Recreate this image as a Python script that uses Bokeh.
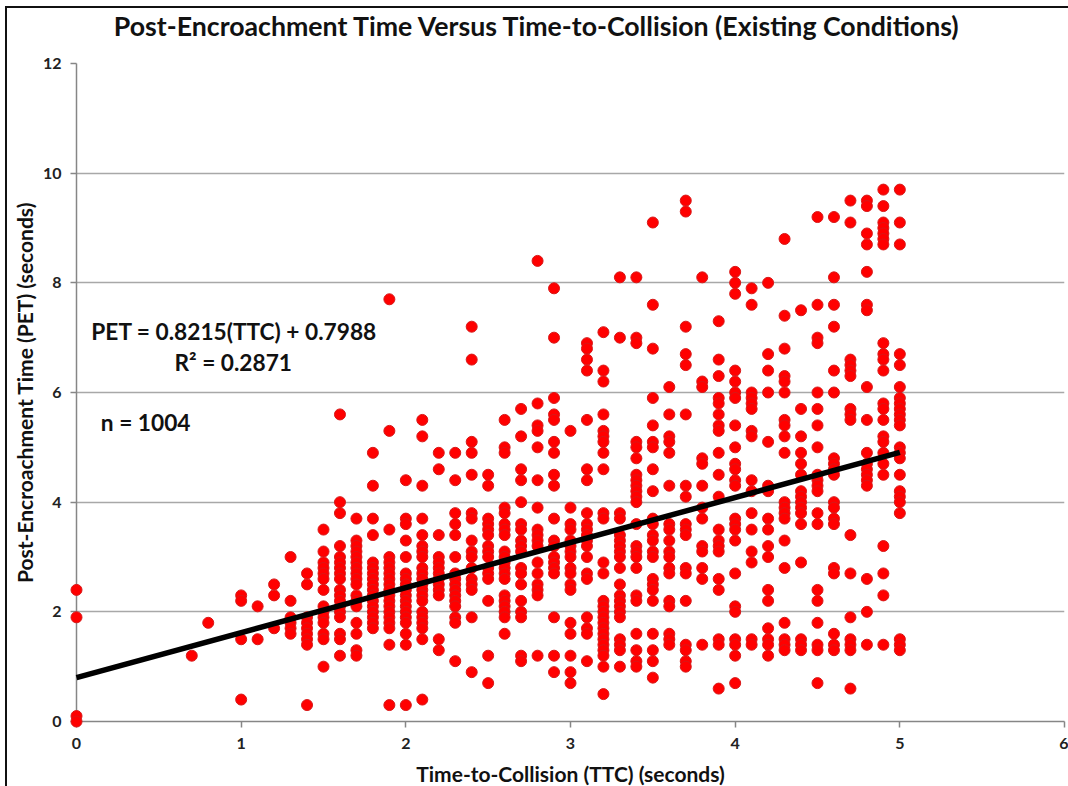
from bokeh.plotting import figure
from bokeh.models import Range1d, FixedTicker
from bokeh.embed import file_html
from bokeh.resources import INLINE
from bokeh.core.properties import value

title_text = "Post-Encroachment Time Versus Time-to-Collision (Existing Conditions)"
x_label = "Time-to-Collision (TTC) (seconds)"
y_label = "Post-Encroachment Time (PET) (seconds)"
eq_text = "PET = 0.8215(TTC) + 0.7988"
r2_text = "R² = 0.2871"
n_text = "n = 1004"
x_ticks = [0, 1, 2, 3, 4, 5, 6]
y_ticks = [0, 2, 4, 6, 8, 10, 12]

trend_x = [0, 5]
trend_y = [0.7988, 4.9063]

pet_by_ttc = {
    0.0: [2.4, 1.9, 0.1, 0.0],
    0.7: [1.2],
    0.8: [1.8],
    1.0: [2.3, 2.2, 1.5, 0.4],
    1.1: [2.1, 1.5],
    1.2: [2.5, 2.3, 1.7],
    1.3: [3.0, 2.2, 1.9, 1.8, 1.7, 1.6],
    1.4: [2.7, 2.5, 1.9, 1.8, 1.7, 1.6, 1.5, 1.4, 0.3],
    1.5: [3.5, 3.1, 2.9, 2.8, 2.7, 2.6, 2.4, 2.1, 2.0, 1.9, 1.8, 1.6, 1.5, 1.0],
    1.6: [5.6, 4.0, 3.8, 3.2, 3.0, 2.9, 2.8, 2.7, 2.6, 2.4, 2.3, 2.2, 2.1, 2.0, 1.9, 1.6, 1.5, 1.2],
    1.7: [3.7, 3.3, 3.2, 3.1, 3.0, 2.9, 2.8, 2.7, 2.6, 2.5, 2.3, 2.2, 2.1, 1.8, 1.6, 1.3, 1.2],
    1.8: [4.9, 4.3, 3.7, 3.4, 2.9, 2.8, 2.7, 2.6, 2.5, 2.4, 2.3, 2.2, 2.1, 2.0, 1.9, 1.8, 1.7],
    1.9: [7.7, 5.3, 3.5, 3.0, 2.9, 2.8, 2.7, 2.6, 2.5, 2.4, 2.3, 2.2, 2.1, 2.0, 1.9, 1.8, 1.7, 1.4, 0.3],
    2.0: [4.4, 3.7, 3.6, 3.3, 3.0, 2.7, 2.6, 2.5, 2.4, 2.3, 2.2, 2.1, 2.0, 1.9, 1.8, 1.6, 1.4, 0.3],
    2.1: [5.5, 5.2, 4.3, 3.7, 3.4, 3.2, 3.1, 3.0, 2.8, 2.7, 2.6, 2.5, 2.4, 2.3, 2.2, 2.0, 1.9, 1.8, 1.7, 1.5, 0.4],
    2.2: [4.9, 4.6, 3.4, 3.0, 2.9, 2.8, 2.7, 2.6, 2.5, 2.4, 2.3, 1.5, 1.3],
    2.3: [4.9, 4.4, 3.8, 3.6, 3.4, 3.0, 2.7, 2.6, 2.5, 2.4, 2.3, 2.2, 2.1, 1.9, 1.8, 1.1],
    2.4: [7.2, 6.6, 5.1, 4.9, 4.5, 3.8, 3.7, 3.3, 3.1, 3.0, 2.8, 2.6, 2.5, 2.4, 1.9, 0.9],
    2.5: [4.5, 4.3, 3.7, 3.6, 3.5, 3.4, 3.2, 3.1, 3.0, 2.8, 2.7, 2.6, 2.2, 1.2, 0.7],
    2.6: [5.5, 5.0, 4.9, 3.9, 3.8, 3.6, 3.5, 3.4, 3.1, 3.0, 2.9, 2.8, 2.7, 2.6, 2.3, 2.2, 2.1, 2.0, 1.9, 1.6],
    2.7: [5.7, 5.2, 4.6, 4.4, 4.0, 3.6, 3.5, 3.3, 3.2, 3.1, 2.8, 2.7, 2.5, 2.2, 2.0, 1.9, 1.2, 1.1],
    2.8: [8.4, 5.8, 5.4, 5.3, 5.0, 4.4, 3.9, 3.5, 3.4, 3.3, 3.2, 2.9, 2.7, 2.5, 2.4, 2.3, 1.2],
    2.9: [7.9, 7.0, 5.9, 5.6, 5.5, 5.1, 4.9, 4.5, 4.3, 3.7, 3.3, 3.2, 3.0, 2.9, 2.8, 2.7, 1.9, 1.2, 0.9],
    3.0: [5.3, 3.9, 3.6, 3.5, 3.3, 3.2, 3.1, 3.0, 2.8, 2.7, 2.5, 2.4, 1.8, 1.6, 1.2, 0.9, 0.7],
    3.1: [6.9, 6.8, 6.6, 6.4, 5.5, 4.6, 4.4, 3.8, 3.6, 3.5, 3.4, 3.3, 3.2, 3.0, 2.7, 2.6, 1.9, 1.7, 1.6, 1.1],
    3.2: [7.1, 6.4, 6.2, 5.6, 5.3, 5.2, 5.1, 4.9, 4.6, 3.8, 3.7, 2.9, 2.7, 2.2, 2.1, 2.0, 1.9, 1.8, 1.7, 1.6, 1.5, 1.4, 1.3, 1.2, 1.0, 0.5],
    3.3: [8.1, 7.0, 3.8, 3.7, 3.4, 3.3, 3.2, 3.1, 3.0, 2.8, 2.5, 2.3, 2.2, 2.1, 2.0, 1.9, 1.5, 1.4, 1.3, 1.0],
    3.4: [8.1, 7.0, 6.9, 5.1, 5.0, 4.8, 4.5, 4.4, 4.3, 4.2, 4.1, 4.0, 3.6, 3.2, 3.1, 3.0, 2.8, 2.3, 2.2, 1.6, 1.3, 1.1, 1.0],
    3.5: [9.1, 7.6, 6.8, 5.9, 5.4, 5.1, 5.0, 4.6, 4.2, 3.7, 3.6, 3.4, 3.3, 3.1, 3.0, 2.6, 2.5, 2.4, 2.2, 1.6, 1.3, 1.1, 0.8],
    3.6: [6.1, 5.6, 5.2, 5.1, 4.9, 4.3, 3.6, 3.5, 3.3, 3.1, 3.0, 2.8, 2.7, 2.2, 2.1, 1.6, 1.5, 1.4],
    3.7: [9.5, 9.3, 7.2, 6.7, 6.5, 5.6, 4.3, 4.1, 3.6, 3.5, 3.4, 2.8, 2.7, 2.2, 1.4, 1.3, 1.1, 1.0],
    3.8: [8.1, 6.2, 6.1, 4.8, 4.7, 4.3, 3.9, 3.7, 3.2, 3.1, 2.8, 2.6, 1.4],
    3.9: [7.3, 6.6, 6.3, 5.9, 5.8, 5.6, 5.4, 5.3, 4.9, 4.5, 4.1, 3.5, 3.3, 3.2, 3.1, 2.6, 2.4, 1.5, 1.4, 0.6],
    4.0: [8.2, 8.0, 7.8, 6.4, 6.2, 6.0, 5.9, 5.4, 5.0, 4.7, 4.6, 4.4, 4.3, 3.7, 3.6, 3.5, 3.3, 2.7, 2.1, 2.0, 1.5, 1.4, 1.2, 0.7],
    4.1: [7.9, 7.6, 6.0, 5.9, 5.8, 5.7, 5.3, 5.2, 4.4, 4.2, 3.8, 3.5, 3.1, 2.9, 1.5, 1.4],
    4.2: [8.0, 6.7, 6.4, 6.0, 5.1, 4.3, 4.2, 3.7, 3.5, 3.2, 3.0, 2.4, 2.2, 1.7, 1.5, 1.4, 1.2],
    4.3: [8.8, 7.4, 6.8, 6.3, 6.2, 6.0, 5.5, 5.4, 5.2, 4.9, 4.0, 3.9, 3.8, 3.7, 3.3, 2.8, 1.8, 1.5, 1.4, 1.3],
    4.4: [7.5, 5.7, 5.2, 4.9, 4.7, 4.5, 4.2, 4.1, 4.0, 3.9, 3.8, 3.6, 2.9, 1.5, 1.4, 1.3],
    4.5: [9.2, 7.6, 7.0, 6.9, 6.0, 5.7, 5.4, 5.0, 4.5, 4.4, 4.3, 4.2, 3.8, 3.6, 2.4, 2.2, 1.8, 1.4, 1.3, 0.7],
    4.6: [9.2, 8.1, 7.6, 7.2, 6.4, 6.0, 4.8, 4.7, 4.6, 4.5, 4.0, 3.9, 3.7, 3.6, 2.8, 2.7, 1.6, 1.4, 1.3],
    4.7: [9.5, 9.1, 6.6, 6.5, 6.4, 6.3, 5.7, 5.6, 5.5, 3.4, 2.7, 1.9, 1.5, 1.4, 1.3, 0.6],
    4.8: [9.5, 9.4, 8.9, 8.7, 8.2, 7.6, 7.5, 6.1, 5.5, 4.9, 4.7, 4.6, 4.5, 4.4, 4.3, 2.6, 2.0, 1.4],
    4.9: [9.7, 9.4, 9.1, 9.0, 8.9, 8.8, 8.7, 6.9, 6.7, 6.6, 6.4, 5.8, 5.7, 5.5, 5.2, 5.1, 4.9, 4.7, 4.5, 3.2, 2.7, 2.3, 1.4],
    5.0: [9.7, 9.1, 8.7, 6.7, 6.5, 6.1, 5.9, 5.8, 5.7, 5.6, 5.5, 5.4, 5.0, 4.9, 4.8, 4.5, 4.2, 4.1, 4.0, 3.8, 1.5, 1.4, 1.3],
}

ttc = [t for t, ys in pet_by_ttc.items() for _ in ys]
pet = [y for ys in pet_by_ttc.values() for y in ys]

FONT = "Lato"
p = figure(width=1061, height=778, output_backend="svg", toolbar_location=None,
           x_range=Range1d(0, 6), y_range=Range1d(0, 12),
           min_border_left=69, min_border_right=6, min_border_top=55, min_border_bottom=67,
           background_fill_color="white", border_fill_color="white",
           outline_line_color=None)
p.styles = {"position": "absolute", "left": "5px", "top": "6px",
            "border-left": "2px solid #111111", "border-top": "2px solid #111111",
            "box-sizing": "content-box"}

p.xaxis.ticker = FixedTicker(ticks=x_ticks)
p.yaxis.ticker = FixedTicker(ticks=y_ticks)
for ax in (p.xaxis[0], p.yaxis[0]):
    ax.axis_line_color = "#868686"
    ax.axis_line_width = 1.5
    ax.major_tick_line_color = "#868686"
    ax.major_tick_line_width = 1.5
    ax.major_tick_in = 0
    ax.major_tick_out = 6
    ax.minor_tick_line_color = None
    ax.major_label_text_font = FONT
    ax.major_label_text_font_size = "16px"
    ax.major_label_text_font_style = "bold"
    ax.major_label_text_color = "#222222"
    ax.axis_label_text_font = FONT
    ax.axis_label_text_font_style = "bold"
    ax.axis_label_text_color = "#111111"
p.xaxis.axis_label = x_label
p.yaxis.axis_label = y_label
p.xaxis.axis_label_text_font_size = "21px"
p.yaxis.axis_label_text_font_size = "21px"
p.xaxis.major_label_standoff = 10
p.yaxis.major_label_standoff = 9
p.xaxis.axis_label_standoff = 9
p.yaxis.axis_label_standoff = 3
p.xgrid.grid_line_color = None
p.ygrid.ticker = FixedTicker(ticks=y_ticks)
p.ygrid.grid_line_color = "#A8A8A8"
p.ygrid.grid_line_width = 1.5

p.scatter(ttc, pet, size=11, fill_color="#FF0000", line_color="#D81818", line_width=1, level="overlay")
p.line(trend_x, trend_y, line_color="black", line_width=5.5, level="overlay")

p.text([2.80], [12.68], text=[title_text], text_font=value(FONT), text_font_size="26.7px", text_font_style="bold",
       text_color="#111111", text_baseline="middle", text_align="center", level="overlay")
for tx, x, y in [(eq_text, 0.09, 7.12), (r2_text, 0.595, 6.55), (n_text, 0.148, 5.46)]:
    p.text([x], [y], text=[tx], text_font=value(FONT), text_font_size="22.7px", text_font_style="bold",
           text_color="#111111", text_baseline="middle", level="overlay")

open("out.html", "w").write(file_html(p, INLINE))
